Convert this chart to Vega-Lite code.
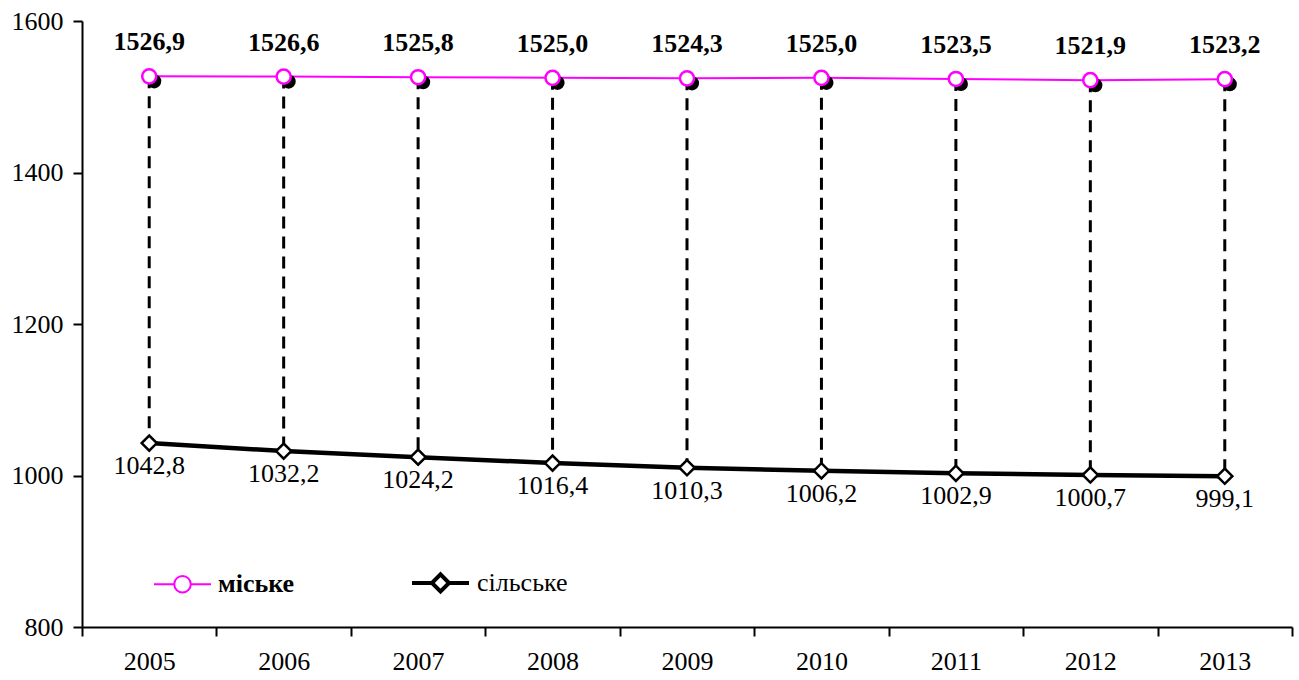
{
  "$schema": "https://vega.github.io/schema/vega-lite/v6.json",
  "width": 1210,
  "height": 606,
  "autosize": {"type": "none"},
  "padding": {"left": 82, "top": 21, "right": 7, "bottom": 53},
  "background": "white",
  "config": {
    "view": {"stroke": null},
    "font": "Liberation Serif",
    "locale": {"number": {"decimal": ",", "thousands": "", "grouping": [3], "currency": ["", ""]}},
    "axis": {
      "domainColor": "black", "domainWidth": 2,
      "tickColor": "black", "tickWidth": 2, "tickSize": 9,
      "labelFont": "Liberation Serif", "labelFontSize": 26, "labelColor": "black",
      "grid": false, "title": null
    }
  },
  "data": {"values": [
    {"year": "2005", "urban": 1526.9, "rural": 1042.8},
    {"year": "2006", "urban": 1526.6, "rural": 1032.2},
    {"year": "2007", "urban": 1525.8, "rural": 1024.2},
    {"year": "2008", "urban": 1525.0, "rural": 1016.4},
    {"year": "2009", "urban": 1524.3, "rural": 1010.3},
    {"year": "2010", "urban": 1525.0, "rural": 1006.2},
    {"year": "2011", "urban": 1523.5, "rural": 1002.9},
    {"year": "2012", "urban": 1521.9, "rural": 1000.7},
    {"year": "2013", "urban": 1523.2, "rural": 999.1}
  ]},
  "encoding": {
    "x": {
      "field": "year", "type": "ordinal",
      "scale": {"type": "band", "paddingInner": 0, "paddingOuter": 0},
      "axis": {"tickBand": "extent", "labelAngle": 0, "labelPadding": 12}
    }
  },
  "layer": [
    {
      "mark": {"type": "rule", "color": "black", "strokeWidth": 3, "strokeDash": [12, 8]},
      "encoding": {
        "y": {"field": "urban", "type": "quantitative", "scale": {"domain": [800, 1600], "nice": false, "zero": false},
              "axis": {"values": [800, 1000, 1200, 1400, 1600], "format": "d", "labelPadding": 10}},
        "y2": {"field": "rural"}
      }
    },
    {
      "mark": {"type": "line", "color": "black", "strokeWidth": 4.5},
      "encoding": {"y": {"field": "rural", "type": "quantitative"}}
    },
    {
      "mark": {"type": "line", "color": "#ff00ff", "strokeWidth": 2},
      "encoding": {"y": {"field": "urban", "type": "quantitative"}}
    },
    {
      "mark": {"type": "point", "shape": "circle", "filled": true, "color": "black", "opacity": 1, "size": 200, "xOffset": 5, "yOffset": 5},
      "encoding": {"y": {"field": "urban", "type": "quantitative"}}
    },
    {
      "mark": {"type": "point", "shape": "circle", "filled": false, "fill": "white", "stroke": "#ff00ff", "strokeWidth": 2.5, "opacity": 1, "size": 200},
      "encoding": {"y": {"field": "urban", "type": "quantitative"}}
    },
    {
      "mark": {"type": "point", "shape": "diamond", "filled": false, "fill": "white", "stroke": "black", "strokeWidth": 2.5, "opacity": 1, "size": 230},
      "encoding": {"y": {"field": "rural", "type": "quantitative"}}
    },
    {
      "mark": {"type": "text", "font": "Liberation Serif", "fontSize": 26, "fontWeight": "bold", "color": "black", "dy": -34, "baseline": "middle"},
      "encoding": {
        "y": {"field": "urban", "type": "quantitative"},
        "text": {"field": "urban", "type": "quantitative", "format": ".1f"}
      }
    },
    {
      "mark": {"type": "text", "font": "Liberation Serif", "fontSize": 26, "color": "black", "dy": 23, "baseline": "middle"},
      "encoding": {
        "y": {"field": "rural", "type": "quantitative"},
        "text": {"field": "rural", "type": "quantitative", "format": ".1f"}
      }
    },
    {
      "transform": [{"fold": ["urban", "rural"], "as": ["key", "val"]}],
      "mark": {"type": "point", "opacity": 0, "filled": false},
      "encoding": {
        "y": {"field": "val", "type": "quantitative"},
        "color": {
          "field": "key", "type": "nominal",
          "scale": {"domain": ["urban", "rural"], "range": ["#ff00ff", "black"]},
          "legend": {
            "title": null,
            "orient": "none",
            "direction": "horizontal",
            "legendX": 71,
            "legendY": 531,
            "symbolSize": 3249,
            "symbolFillColor": "white",
            "symbolOpacity": 1,
            "labelFont": "Liberation Serif",
            "labelFontSize": 26,
            "labelColor": "black",
            "labelOffset": 6,
            "columnPadding": 109,
            "labelFontWeight": {"expr": "datum.value === 'urban' ? 'bold' : 'normal'"},
            "labelExpr": "datum.value === 'urban' ? 'міське' : 'сільське'"
          }
        },
        "shape": {
          "field": "key", "type": "nominal",
          "scale": {"domain": ["urban", "rural"], "range": [
            "M-1,0L-0.29,0M0.29,0L1,0M-0.29,0A0.29,0.29,0,1,1,0.29,0A0.29,0.29,0,1,1,-0.29,0Z",
            "M-1,0L-0.3,0M0.3,0L1,0M-0.3,0L0,-0.3L0.3,0L0,0.3Z"
          ]}
        },
        "strokeWidth": {
          "field": "key", "type": "nominal",
          "scale": {"domain": ["urban", "rural"], "range": [2, 4]}
        }
      }
    }
  ]
}
